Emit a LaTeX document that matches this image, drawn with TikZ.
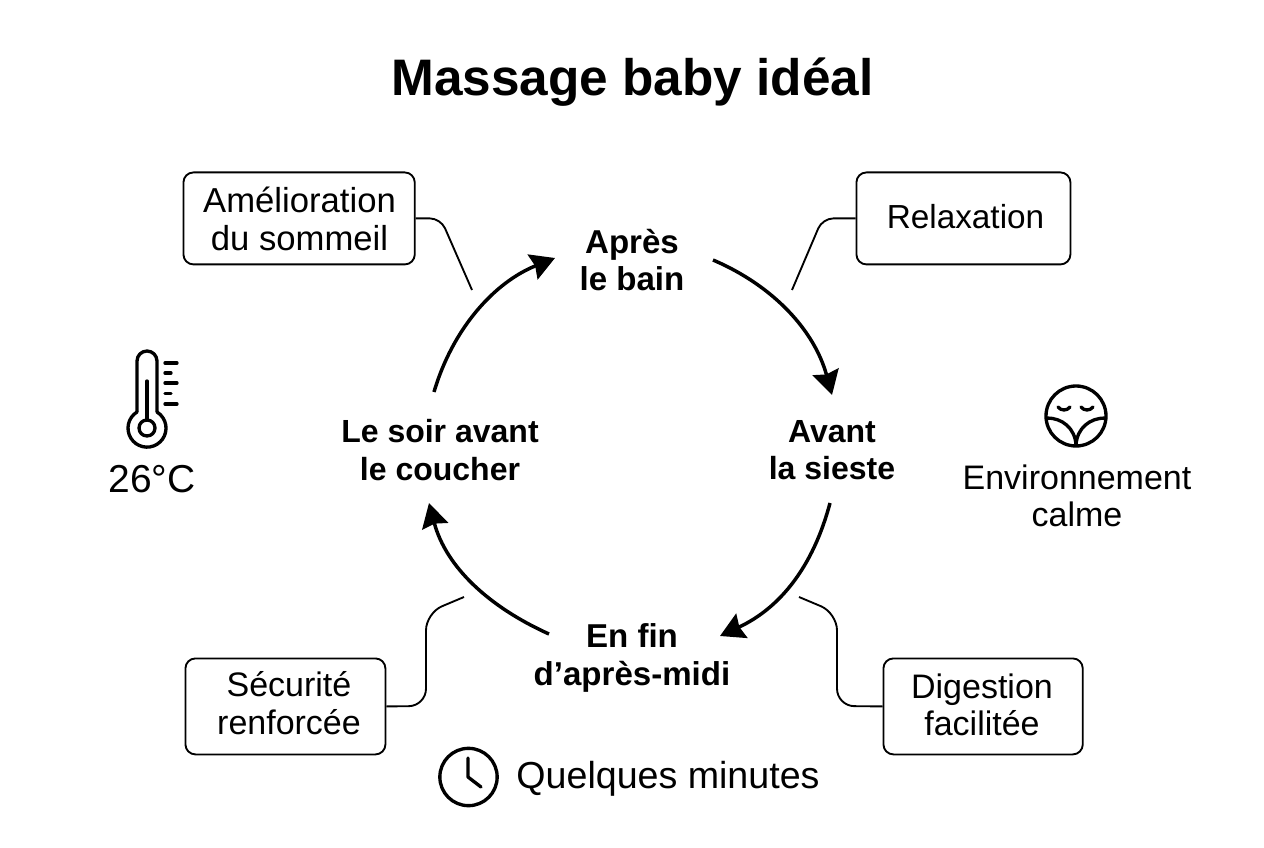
\documentclass[tikz,border=0pt]{standalone}
\usepackage{fontspec}
\setmainfont{Liberation Sans}
\usetikzlibrary{arrows.meta}
\tikzset{
  px/.style={x=0.75pt,y=-0.75pt},
  boxn/.style={draw=black,line width=1.4pt,rounded corners=7.5pt,inner sep=0pt,anchor=north west},
  lab/.style={font=\fontsize{25.5}{28}\selectfont,align=center,inner sep=0pt},
  stage/.style={font=\fontsize{24}{28}\selectfont\bfseries,align=center,inner sep=0pt},
  stagew/.style={font=\fontsize{24.8}{28}\selectfont\bfseries,align=center,inner sep=0pt},
  loopar/.style={line width=2.6pt,-{Stealth[length=18pt,width=20pt,inset=2pt]}},
  lead/.style={line width=1.4pt},
  icon/.style={line width=2.5pt,line cap=round,line join=round}
}
\begin{document}
\begin{tikzpicture}[px]
\useasboundingbox (0,0) rectangle (1264,848);
\node[font=\fontsize{38.5}{44}\selectfont\bfseries,inner sep=0pt] (title) at (632.5,82) {Massage baby idéal};
% stages
\node[stagew] (apres) at (632,260) {Après\\le bain};
\node[stage] (avant) at (832,450) {Avant\\la sieste};
\node[stagew] (fin) at (632,658) {En fin\\d’après-midi};
\node[stage] (soir) at (440,450) {Le soir avant\\le coucher};
% boxes
\node[boxn,minimum width=173.5pt,minimum height=69pt] (b1) at (182.5,171.5) {};
\node[lab,font=\fontsize{26}{28}\selectfont] (t1) at (299.5,219) {Amélioration\\du sommeil};
\node[boxn,minimum width=160.5pt,minimum height=69pt] (b2) at (855.5,171.5) {};
\node[lab,font=\fontsize{25}{28}\selectfont] (t2) at (965.5,216.5) {Relaxation};
\node[boxn,minimum width=150pt,minimum height=72pt] (b3) at (184.5,657.5) {};
\node[lab] (t3) at (289,703) {Sécurité\\renforcée};
\node[boxn,minimum width=149.5pt,minimum height=72pt] (b4) at (882.5,657.5) {};
\node[lab] (t4) at (982,705) {Digestion\\facilitée};
% loop ends
\coordinate (a1) at (713,260); \coordinate (a2) at (832,395);
\coordinate (c1) at (830,503); \coordinate (c2) at (720,636);
\coordinate (e1) at (549,634); \coordinate (e2) at (429,503);
\coordinate (g1) at (434,392); \coordinate (g2) at (555,258);
\draw[loopar] (a1) .. controls (774,286) and (814.5,331) .. (a2);
\draw[loopar] (c1) .. controls (813,567) and (780,608) .. (c2);
\draw[loopar] (e1) .. controls (489,607) and (446,567) .. (e2);
\draw[loopar] (g1) .. controls (452.5,329) and (494,282.5) .. (g2);
% leaders
\coordinate (l1) at (472,290); \coordinate (l2) at (792,290);
\coordinate (l3) at (464,597); \coordinate (l4) at (799,597);
\draw[lead,rounded corners=8pt] (b1.east) -- ++(25,0) -- (l1);
\draw[lead,rounded corners=8pt] (b2.west) -- ++(-33,0) -- (l2);
\draw[lead,rounded corners=13pt] (b3.east) -- (426,706) -- (426,613) -- (l3);
\draw[lead,rounded corners=13pt] (b4.west) -- (837,706) -- (837,613) -- (l4);
% thermometer
\draw[icon] (137,412) -- (137,361) arc[start angle=180,end angle=0,radius=7.5pt] -- (157,412);
\draw[icon] (137,412) arc[start angle=121.8,end angle=418.2,radius=14.25pt];
\draw[icon] (147,428) circle[radius=6pt];
\draw[icon] (147,381) -- (147,420);
\draw[icon] (165,363) -- (177,363);
\draw[icon] (165,373) -- (171,373);
\draw[icon] (165,383) -- (177,383);
\draw[icon] (165,393.5) -- (171,393.5);
\draw[icon] (165,404) -- (177,404);
\node[inner sep=0pt,font=\fontsize{29.2}{32}\selectfont] (temp) at (152,479) {26°C};
% calm face
\draw[icon] (1076,416) circle[radius=22.5pt];
\draw[icon] (1058,407) .. controls (1061,411) and (1067,411) .. (1070,407);
\draw[icon] (1081,407) .. controls (1084,411) and (1090,411) .. (1093,407);
\draw[icon] (1047,418) .. controls (1062,418) and (1075,428) .. (1076,445);
\draw[icon] (1105,418) .. controls (1090,418) and (1077,428) .. (1076,445);
\node[lab] (env) at (1077,496) {Environnement\\calme};
% clock
\draw[icon] (468.5,777) circle[radius=21.5pt];
\draw[icon] (468,758) -- (468,777) -- (481,787);
\node[inner sep=0pt,font=\fontsize{28.2}{32}\selectfont] (dur) at (668,779) {Quelques minutes};
\end{tikzpicture}
\end{document}
